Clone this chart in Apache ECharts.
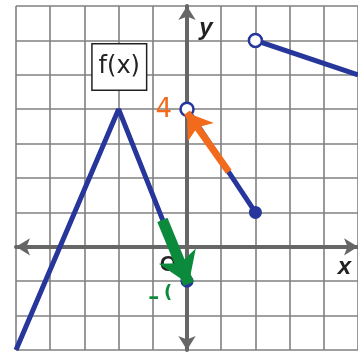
<!DOCTYPE html>
<html lang="en">
<head>
    <meta charset="UTF-8">
    <title>f(x)</title>
    <script src="https://cdn.jsdelivr.net/npm/echarts@6.0.0/dist/echarts.min.js"></script>
    <style>
        html, body { margin: 0; padding: 0; background: #fff; }
    </style>
</head>
<body>
    <div id="chart" style="width:358px;height:352px;"></div>
<script>
    // pieces of f(x)
    var piece1 = [[-5, -3], [-2, 4], [0, -1]];
    var piece2 = [[0, 4], [2, 1]];
    var piece3 = [[2, 6], [5, 5]];
    var openPoints = [[0, 4], [2, 6]];
    var closedPoints = [[0, -1], [2, 1]];
    // handwritten notes
    var orangeArrow = [[1.22, 2.18], [0.0, 3.9]];
    var greenArrow = [[-0.72, 0.78], [0.05, -1.08]];
    var xRange = [-5, 5];
    var yRange = [-3, 7];

    var blue = '#27369a';
    var orange = '#f26b1d';
    var green = '#0b8a3c';
    var gridColor = '#808080';
    var axisColor = '#666666';

    var chart = echarts.init(document.getElementById('chart'));

    function axis(range) {
        return {
            type: 'value',
            min: range[0],
            max: range[1],
            interval: 1,
            axisLine: {
                show: true,
                onZero: true,
                symbol: ['arrow', 'arrow'],
                symbolSize: [13, 14],
                lineStyle: { color: axisColor, width: 4 }
            },
            axisTick: { show: false },
            axisLabel: { show: false },
            splitLine: { show: true, lineStyle: { color: gridColor, width: 1.6 } }
        };
    }

    function seg(data) {
        return {
            type: 'line',
            data: data,
            symbol: 'none',
            z: 3,
            lineStyle: { color: blue, width: 5 }
        };
    }

    function note(coords, color, width, size) {
        return {
            type: 'lines',
            coordinateSystem: 'cartesian2d',
            z: 6,
            symbol: ['none', 'arrow'],
            symbolSize: size,
            lineStyle: { color: color, width: width, opacity: 1 },
            data: [{ coords: coords }]
        };
    }

    var option = {
        backgroundColor: '#fff',
        animation: false,
        grid: { left: 16, top: 6, width: 344, height: 344 },
        xAxis: axis(xRange),
        yAxis: axis(yRange),
        series: [
            seg(piece1),
            seg(piece2),
            seg(piece3),
            {
                type: 'scatter',
                data: closedPoints,
                symbolSize: 13,
                z: 4,
                itemStyle: { color: blue, opacity: 1 }
            },
            {
                type: 'scatter',
                data: openPoints,
                symbolSize: 13,
                z: 4,
                itemStyle: { color: '#fff', borderColor: blue, borderWidth: 2.5, opacity: 1 }
            },
            note(orangeArrow, orange, 7, [20, 24]),
            note(greenArrow, green, 11, [25, 30])
        ]
    };
    chart.setOption(option);

    function px(p) {
        return chart.convertToPixel({ gridIndex: 0 }, p);
    }

    function label(pos, text, color, font, z) {
        return {
            type: 'text', x: pos[0], y: pos[1], z: z || 11,
            style: { text: text, fill: color, font: font, align: 'center', verticalAlign: 'middle' }
        };
    }

    var boxA = px([-2.78, 5.9]);
    var boxB = px([-1.18, 4.55]);

    chart.setOption({
        graphic: [
            {
                type: 'rect',
                shape: { x: boxA[0], y: boxA[1], width: boxB[0] - boxA[0], height: boxB[1] - boxA[1] },
                style: { fill: '#fff', stroke: '#222', lineWidth: 1.5 },
                z: 10
            },
            label([(boxA[0] + boxB[0]) / 2, (boxA[1] + boxB[1]) / 2], 'f(x)', '#222', '24px "DejaVu Sans"'),
            label(px([0.55, 6.35]), 'y', '#222', 'italic bold 24px "Liberation Sans"'),
            label(px([4.6, -0.6]), 'x', '#222', 'italic bold 24px "Liberation Sans"'),
            label(px([-0.55, -0.52]), 'O', '#222', 'bold 22px "Liberation Sans"', 5),
            label(px([-0.68, 3.98]), '4', orange, '26px "DejaVu Sans"'),
            label(px([-0.97, -1.5]), '\u2013', green, 'bold 22px "DejaVu Sans"'),
            label(px([-0.55, -1.35]), '(', green, 'bold 18px "DejaVu Sans"')
        ]
    });
</script>
</body>
</html>
